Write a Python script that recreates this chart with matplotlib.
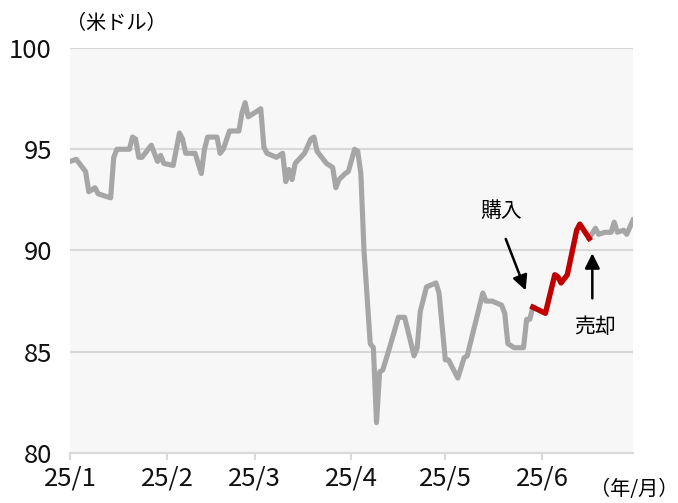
import numpy as np
import matplotlib
matplotlib.use("Agg")
import matplotlib.pyplot as plt

plt.rcParams['font.family'] = ['Noto Sans CJK JP', 'DejaVu Sans']

# price before the buy (US$)
dates_before = ["2025-01-01", "2025-01-03", "2025-01-06", "2025-01-07", "2025-01-09", "2025-01-10",
                "2025-01-14", "2025-01-15", "2025-01-16", "2025-01-20", "2025-01-21", "2025-01-22",
                "2025-01-23", "2025-01-24", "2025-01-27", "2025-01-28", "2025-01-29", "2025-01-30",
                "2025-01-31", "2025-02-03", "2025-02-05", "2025-02-06", "2025-02-07", "2025-02-10",
                "2025-02-12", "2025-02-13", "2025-02-14", "2025-02-17", "2025-02-18", "2025-02-19",
                "2025-02-21", "2025-02-24", "2025-02-25", "2025-02-26", "2025-02-27", "2025-03-01",
                "2025-03-03", "2025-03-04", "2025-03-05", "2025-03-08", "2025-03-10", "2025-03-11",
                "2025-03-12", "2025-03-13", "2025-03-14", "2025-03-17", "2025-03-19", "2025-03-20",
                "2025-03-21", "2025-03-24", "2025-03-26", "2025-03-27", "2025-03-28", "2025-03-30",
                "2025-03-31", "2025-04-02", "2025-04-03", "2025-04-04", "2025-04-05", "2025-04-07",
                "2025-04-08", "2025-04-09", "2025-04-10", "2025-04-11", "2025-04-13", "2025-04-16",
                "2025-04-18", "2025-04-21", "2025-04-22", "2025-04-23", "2025-04-25", "2025-04-28",
                "2025-04-29", "2025-05-01", "2025-05-02", "2025-05-05", "2025-05-07", "2025-05-08",
                "2025-05-13", "2025-05-14", "2025-05-16", "2025-05-19", "2025-05-20", "2025-05-21",
                "2025-05-22", "2025-05-23", "2025-05-26", "2025-05-27", "2025-05-28", "2025-05-29"]
price_before = [94.4, 94.5, 93.9, 92.9, 93.1, 92.8,
                92.6, 94.6, 95.0, 95.0, 95.6, 95.5,
                94.6, 94.6, 95.2, 94.8, 94.4, 94.7,
                94.3, 94.2, 95.8, 95.5, 94.8, 94.8,
                93.8, 95.0, 95.6, 95.6, 94.8, 95.0,
                95.9, 95.9, 96.8, 97.3, 96.6, 96.8,
                97.0, 95.1, 94.8, 94.6, 94.8, 93.4,
                94.0, 93.5, 94.3, 94.8, 95.5, 95.6,
                94.9, 94.3, 94.1, 93.1, 93.5, 93.8,
                93.9, 95.0, 94.9, 93.8, 90.0, 85.4,
                85.2, 81.5, 84.0, 84.1, 85.1, 86.7,
                86.7, 84.8, 85.2, 87.0, 88.2, 88.4,
                87.9, 84.6, 84.6, 83.7, 84.7, 84.8,
                87.9, 87.5, 87.5, 87.3, 86.9, 85.4,
                85.3, 85.2, 85.2, 86.6, 86.6, 87.2]

# holding period
dates_hold = ["2025-05-29", "2025-06-02", "2025-06-05", "2025-06-06", "2025-06-07",
              "2025-06-09", "2025-06-12", "2025-06-13", "2025-06-16"]
price_hold = [87.2, 86.9, 88.8, 88.7, 88.4, 88.8, 91.0, 91.3, 90.6]

# after the sale
dates_after = ["2025-06-16", "2025-06-18", "2025-06-19", "2025-06-21", "2025-06-23",
               "2025-06-24", "2025-06-25", "2025-06-27", "2025-06-28", "2025-06-30"]
price_after = [90.6, 91.1, 90.8, 90.9, 90.9, 91.4, 90.9, 91.0, 90.8, 91.5]

month_ticks = ["2025-01-01", "2025-02-01", "2025-03-01", "2025-04-01", "2025-05-01", "2025-06-01"]
month_labels = ["25/1", "25/2", "25/3", "25/4", "25/5", "25/6"]
y_ticks = [80, 85, 90, 95, 100]

to_d = lambda lst: np.array(lst, dtype="datetime64[D]")

fig = plt.figure(figsize=(6.78, 5.03), dpi=100)
ax = fig.add_axes([0.1032, 0.0994, 0.8304, 0.8052])
ax.set_facecolor("#f7f7f7")

gray = "#a6a6a6"
red = "#c00000"
ax.plot(to_d(dates_before), price_before, color=gray, lw=3.7, solid_joinstyle="round", zorder=3)
ax.plot(to_d(dates_after), price_after, color=gray, lw=3.7, solid_joinstyle="round", zorder=3)
ax.plot(to_d(dates_hold), price_hold, color=red, lw=3.9, solid_joinstyle="round", zorder=4)

ax.set_xlim(np.datetime64("2025-01-01"), np.datetime64("2025-06-30"))
ax.set_ylim(80, 100)
ax.set_yticks(y_ticks)
ax.set_xticks(to_d(month_ticks))
ax.set_xticklabels(month_labels)

ax.grid(axis="y", color="#d9d9d9", lw=1.5, zorder=1)
for s in ["top", "right", "left"]:
    ax.spines[s].set_visible(False)
ax.spines["bottom"].set_color("#d9d9d9")
ax.spines["bottom"].set_linewidth(1.5)
ax.tick_params(axis="y", length=0, pad=13, labelsize=18.5, labelcolor="#111111")
ax.tick_params(axis="x", length=5, width=1.5, color="#d9d9d9", pad=4, labelsize=18.5,
               labelcolor="#111111")

# buy / sell annotations
ax.annotate("", xy=(np.datetime64("2025-05-27"), 87.9), xytext=(np.datetime64("2025-05-20"), 90.7),
            arrowprops=dict(arrowstyle="-|>,head_length=0.9,head_width=0.45", color="black", lw=1.8),
            zorder=5)
ax.text(np.datetime64("2025-05-19"), 91.95, "購入", fontsize=15, ha="center", va="center")
ax.annotate("", xy=(np.datetime64("2025-06-17"), 90.0), xytext=(np.datetime64("2025-06-17"), 87.5),
            arrowprops=dict(arrowstyle="-|>,head_length=0.9,head_width=0.45", color="black", lw=1.8),
            zorder=5)
ax.text(np.datetime64("2025-06-18"), 86.2, "売却", fontsize=15, ha="center", va="center")

fig.text(66 / 678, 1 - 24 / 503, "（米ドル）", fontsize=14.5, ha="left", va="center")
fig.text(678 / 678, 1 - 490 / 503, "（年/月）", fontsize=14.5, ha="right", va="center")

fig.savefig("out.png", dpi=100)
